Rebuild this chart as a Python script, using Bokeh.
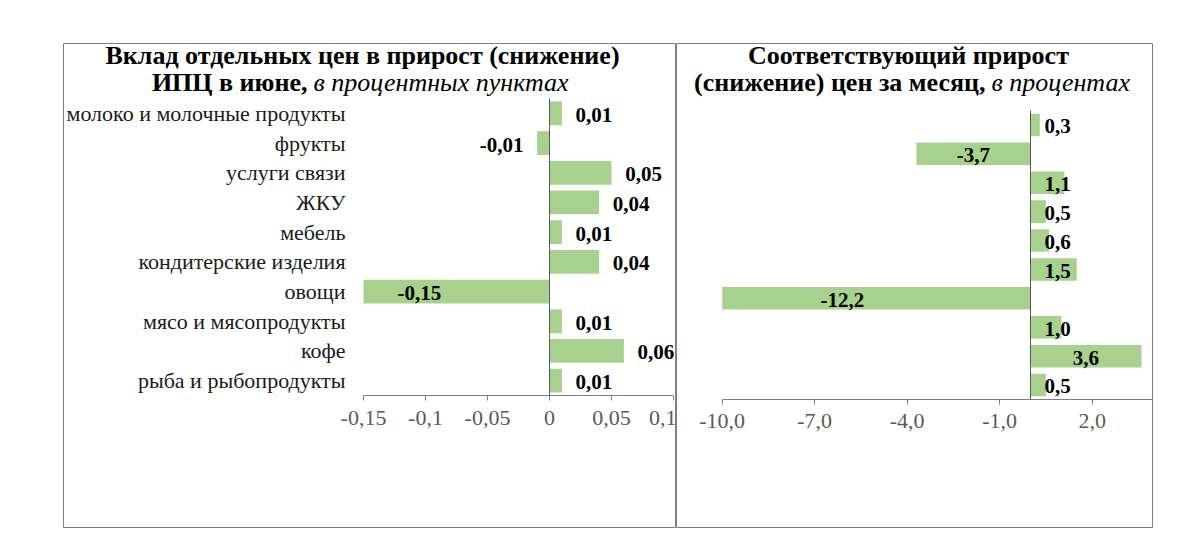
import numpy as np
from bokeh.plotting import figure
from bokeh.models import LinearAxis, FixedTicker, Range1d
from bokeh.layouts import row
from bokeh.core.properties import value
from bokeh.embed import file_html
from bokeh.resources import INLINE

# ---------------- data ----------------
categories = ["молоко и молочные продукты", "фрукты", "услуги связи", "ЖКУ", "мебель",
              "кондитерские изделия", "овощи", "мясо и мясопродукты", "кофе",
              "рыба и рыбопродукты"]
contrib = [0.01, -0.01, 0.05, 0.04, 0.01, 0.04, -0.15, 0.01, 0.06, 0.01]
contrib_labels = ["0,01", "-0,01", "0,05", "0,04", "0,01", "0,04", "-0,15", "0,01", "0,06", "0,01"]
growth = [0.3, -3.7, 1.1, 0.5, 0.6, 1.5, -12.2, 1.0, 3.6, 0.5]
growth_labels = ["0,3", "-3,7", "1,1", "0,5", "0,6", "1,5", "-12,2", "1,0", "3,6", "0,5"]
left_ticks = [-0.15, -0.1, -0.05, 0, 0.05, 0.1]
left_tick_labels = ["-0,15", "-0,1", "-0,05", "0", "0,05", "0,1"]
right_ticks = [-10, -7, -4, -1, 2]
right_tick_labels = ["-10,0", "-7,0", "-4,0", "-1,0", "2,0"]
left_title = ["Вклад отдельных цен в прирост (снижение)", "ИПЦ в июне,", "в процентных пунктах"]
right_title = ["Соответствующий прирост", "(снижение) цен за месяц,", "в процентах"]

FONT = "Liberation Serif"
BAR = "#a9d18e"
AXIS = "#7f7f7f"
FRAME = "#7f7f7f"

n = len(categories)
ys = np.array([n - 1 - i for i in range(n)], dtype=float)
cv = np.array(contrib)
gv = np.array(growth)


def base_fig(width, xr, yr, mbl, mbr):
    p = figure(width=width, height=535, output_backend="svg", toolbar_location=None,
               x_range=Range1d(*xr), y_range=Range1d(*yr),
               x_axis_location=None, y_axis_location=None,
               min_border_left=mbl, min_border_right=mbr, min_border_top=43,
               min_border_bottom=8)
    p.grid.visible = False
    p.outline_line_color = FRAME
    p.outline_line_width = 1
    p.background_fill_color = "white"
    p.border_fill_color = "white"
    return p


def add_x_axis(p, ticks, labels, bounds):
    ax = LinearAxis(fixed_location=-0.5, bounds=bounds, ticker=FixedTicker(ticks=ticks),
                    major_label_overrides=dict(zip(ticks, labels)))
    ax.axis_line_color = AXIS
    ax.major_tick_line_color = AXIS
    ax.minor_tick_line_color = None
    ax.major_tick_in = 0
    ax.major_tick_out = 5
    ax.major_label_standoff = 10
    ax.major_label_text_font = FONT
    ax.major_label_text_font_size = "22px"
    ax.major_label_text_color = "#595959"
    p.add_layout(ax, "below")


def add_zero_axis(p):
    ax = LinearAxis(fixed_location=0, bounds=(-0.5, n - 0.5), ticker=FixedTicker(ticks=[]))
    ax.axis_line_color = "#595959"
    ax.major_tick_line_color = None
    ax.minor_tick_line_color = None
    p.add_layout(ax, "left")


# ---------------- left panel ----------------
L = base_fig(676, (-0.39194, 0.10161), (-4.944, 11.352), 63, 1)
L.hbar(y=ys, left=0, right=cv, height=0.8, fill_color=BAR, line_color=None)
add_x_axis(L, left_ticks, left_tick_labels, (-0.15, 0.1))
add_zero_axis(L)

cat_ax = LinearAxis(fixed_location=-0.15, bounds=(-0.5, n - 0.5), ticker=FixedTicker(ticks=list(ys)),
                    major_label_overrides={float(y): c for y, c in zip(ys, categories)})
cat_ax.axis_line_color = None
cat_ax.major_tick_line_color = None
cat_ax.minor_tick_line_color = None
cat_ax.major_tick_in = 0
cat_ax.major_tick_out = 0
cat_ax.major_label_standoff = 18
cat_ax.major_label_text_font = FONT
cat_ax.major_label_text_font_size = "22px"
cat_ax.major_label_text_color = "#1a1a1a"
L.add_layout(cat_ax, "left")

off = 0.011
xmin_l = -0.15
pos = cv >= 0
neg_fit = (cv < 0) & (cv - off - 0.04 >= xmin_l)
neg_in = (cv < 0) & ~neg_fit
lbl = np.array(contrib_labels)
common = dict(text_font=value(FONT), text_font_style="bold", text_font_size="21px",
              text_color="black", text_baseline="middle")
L.text(x=cv[pos] + off, y=ys[pos] - 0.05, text=lbl[pos], text_align="left", **common)
L.text(x=cv[neg_fit] - off, y=ys[neg_fit] - 0.05, text=lbl[neg_fit], text_align="right", **common)
L.text(x=cv[neg_in] * 0.7, y=ys[neg_in] - 0.05, text=lbl[neg_in], text_align="center", **common)

title_common = dict(text_font=value(FONT), text_font_size="26px", text_color="black",
                    text_baseline="middle")
L.text(x=[-0.1508], y=[10.948], text=[left_title[0]], text_align="center",
       text_font_style="bold", **title_common)
L.text(x=[-0.1952], y=[10.039], text=[left_title[1]], text_align="right",
       text_font_style="bold", **title_common)
L.text(x=[-0.1903], y=[10.039], text=[left_title[2]], text_align="left",
       text_font_style="italic", **title_common)

# ---------------- right panel ----------------
xmin_r = -10
R = base_fig(477, (-11.482, 3.957), (-4.929, 11.818), 0, 1)
R.hbar(y=ys, left=0, right=np.maximum(gv, xmin_r), height=0.78, fill_color=BAR, line_color=None)
add_x_axis(R, right_ticks, right_tick_labels, (-10, 4))
add_zero_axis(R)

gx = np.where(gv >= 0, np.maximum(gv / 2, 0.88), gv / 2)
R.text(x=gx, y=ys - 0.05, text=growth_labels, text_align="center", **common)

R.text(x=[-3.957], y=[11.403], text=[right_title[0]], text_align="center",
       text_font_style="bold", **title_common)
R.text(x=[-1.46], y=[10.469], text=[right_title[1]], text_align="right",
       text_font_style="bold", **title_common)
R.text(x=[-1.265], y=[10.469], text=[right_title[2]], text_align="left",
       text_font_style="italic", **title_common)

layout = row(L, R)
open("out.html", "w").write(file_html(layout, INLINE))
